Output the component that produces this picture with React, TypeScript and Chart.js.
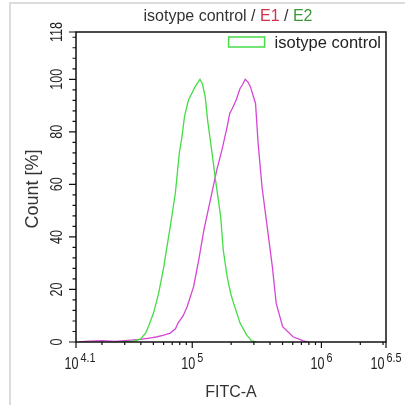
import React, { useEffect, useRef } from 'react';
import { Chart, registerables } from 'chart.js';

Chart.register(...registerables);

// ---- data (x in log10 FITC-A units, y in Count %) ----
const ISO_LABEL = 'isotype control';
const ISO_LOG = [4.45, 4.55, 4.6, 4.64, 4.66, 4.7, 4.74, 4.78, 4.8, 4.83, 4.87, 4.9, 4.92, 4.94, 4.97, 5.0, 5.02, 5.04, 5.06, 5.08, 5.1, 5.12, 5.15, 5.18, 5.22, 5.24, 5.27, 5.3, 5.32, 5.37, 5.42, 5.46, 5.5];
const ISO_COUNT = [0, 0.3, 1.2, 3.5, 5.8, 11, 18.6, 28.7, 35, 44, 57, 72, 78, 85.8, 92, 95, 97, 98.5, 100, 98, 93.4, 84, 73.1, 61.7, 47.7, 35, 24.9, 18, 14.8, 7.2, 2.7, 0.4, 0];

const E1_LABEL = 'E1';
const E1_LOG = [4.12, 4.2, 4.3, 4.4, 4.5, 4.6, 4.68, 4.73, 4.78, 4.83, 4.87, 4.89, 4.93, 4.96, 5.01, 5.05, 5.09, 5.14, 5.19, 5.23, 5.27, 5.29, 5.31, 5.34, 5.37, 5.39, 5.41, 5.43, 5.45, 5.47, 5.49, 5.51, 5.54, 5.58, 5.62, 5.65, 5.7, 5.78, 5.86, 5.9];
const E1_COUNT = [0, 0.3, 0.5, 0.2, 0.6, 1.0, 1.6, 2.0, 2.6, 3.4, 5.0, 7.2, 10, 13.4, 21, 31.2, 42.6, 54, 65.5, 73.1, 81.9, 87, 88.9, 92.1, 96.5, 98, 100, 99, 97.2, 94, 90.8, 75.6, 59.1, 43.9, 28.7, 14.7, 5.8, 2.0, 0.4, 0];

const X_MIN = 4.1;
const X_MAX = 6.5;
const X_LABEL_TICKS = [4.1, 5, 6, 6.5];
const X_LABEL_BASE = '10';
const X_LABEL_EXP = ['4.1', '5', '6', '6.5'];
const Y_MIN = 0;
const Y_MAX = 118;
const Y_LABEL_TICKS = [0, 20, 40, 60, 80, 100, 118];
const Y_MINOR_STEP = 4;

const TITLE_PARTS: [string, string][] = [
  ['isotype control / ', '#333333'],
  ['E1', '#d0304a'],
  [' / ', '#333333'],
  ['E2', '#3a9a3a'],
];
const X_TITLE = 'FITC-A';
const Y_TITLE = 'Count [%]';

const GREEN = '#45dc45';
const MAGENTA = '#d646d6';
const FONT = "'Liberation Sans', Arial, sans-serif";

const near = (a: number, list: number[]) => list.some((v) => Math.abs(v - a) < 1e-6);

const overlay = {
  id: 'overlay',
  beforeDraw(chart: any) {
    const { ctx } = chart;
    ctx.save();
    ctx.strokeStyle = '#dcdcdc';
    ctx.lineWidth = 2;
    ctx.beginPath();
    ctx.moveTo(10, 405);
    ctx.lineTo(10, 3);
    ctx.lineTo(405, 3);
    ctx.stroke();
    ctx.restore();
  },
  afterDraw(chart: any) {
    const { ctx, chartArea: a } = chart;
    const xs = chart.scales.x;
    const ys = chart.scales.y;
    ctx.save();
    ctx.strokeStyle = '#111';
    ctx.lineWidth = 1.5;
    ctx.strokeRect(a.left, a.top, a.right - a.left, a.bottom - a.top);

    // ticks
    ctx.lineWidth = 1.2;
    ctx.beginPath();
    xs.ticks.forEach((t: any) => {
      const px = xs.getPixelForValue(t.value);
      const len = near(t.value, X_LABEL_TICKS) ? 6 : 3;
      ctx.moveTo(px, a.bottom);
      ctx.lineTo(px, a.bottom + len);
    });
    ys.ticks.forEach((t: any) => {
      const py = ys.getPixelForValue(t.value);
      const len = near(t.value, Y_LABEL_TICKS) ? 7 : 3.5;
      ctx.moveTo(a.left, py);
      ctx.lineTo(a.left - len, py);
    });
    ctx.stroke();

    // x tick labels
    ctx.fillStyle = '#222';
    ctx.textBaseline = 'alphabetic';
    const BS = 0.74;
    const ES = 0.9;
    X_LABEL_TICKS.forEach((v, i) => {
      const px = xs.getPixelForValue(v);
      ctx.font = `17px ${FONT}`;
      const bw = ctx.measureText(X_LABEL_BASE).width * BS;
      ctx.font = `12px ${FONT}`;
      const ew = ctx.measureText(X_LABEL_EXP[i]).width * ES;
      const total = bw + 2 + ew;
      const x0 = px - total / 2 + (i === 0 ? 4 : 0);
      ctx.save();
      ctx.translate(x0, a.bottom + 27);
      ctx.scale(BS, 1);
      ctx.font = `17px ${FONT}`;
      ctx.textAlign = 'left';
      ctx.fillText(X_LABEL_BASE, 0, 0);
      ctx.restore();
      ctx.save();
      ctx.translate(x0 + bw + 2, a.bottom + 20);
      ctx.scale(ES, 1);
      ctx.font = `12px ${FONT}`;
      ctx.textAlign = 'left';
      ctx.fillText(X_LABEL_EXP[i], 0, 0);
      ctx.restore();
    });

    // y tick labels
    Y_LABEL_TICKS.forEach((v) => {
      const py = ys.getPixelForValue(v);
      ctx.save();
      ctx.translate(a.left - 14, py);
      ctx.rotate(-Math.PI / 2);
      ctx.scale(BS, 1);
      ctx.font = `17px ${FONT}`;
      ctx.textAlign = 'center';
      ctx.textBaseline = 'alphabetic';
      ctx.fillText(String(v), 0, 0);
      ctx.restore();
    });

    // axis titles
    ctx.font = `16px ${FONT}`;
    ctx.textAlign = 'center';
    ctx.textBaseline = 'alphabetic';
    ctx.fillStyle = '#333';
    ctx.fillText(X_TITLE, (a.left + a.right) / 2, a.bottom + 55);
    ctx.save();
    ctx.translate(a.left - 38, (a.top + a.bottom) / 2 + 2);
    ctx.rotate(-Math.PI / 2);
    ctx.font = `18px ${FONT}`;
    ctx.fillText(Y_TITLE, 0, 0);
    ctx.restore();

    // title with coloured parts
    ctx.font = `16px ${FONT}`;
    ctx.textAlign = 'left';
    const widths = TITLE_PARTS.map(([s]) => ctx.measureText(s).width);
    const tw = widths.reduce((p, c) => p + c, 0);
    let tx = (a.left + a.right) / 2 - tw / 2 - 3;
    TITLE_PARTS.forEach(([s, c], i) => {
      ctx.fillStyle = c;
      ctx.fillText(s, tx, a.top - 11);
      tx += widths[i];
    });

    // legend (first dataset only)
    const ds = chart.data.datasets[0];
    ctx.font = `16.5px ${FONT}`;
    ctx.fillStyle = '#222';
    ctx.textAlign = 'right';
    const lx = a.right - 5;
    const ly = a.top + 16;
    ctx.fillText(ds.label, lx, ly);
    const lw = ctx.measureText(ds.label).width;
    ctx.strokeStyle = ds.borderColor;
    ctx.lineWidth = 1.5;
    ctx.strokeRect(lx - lw - 46, ly - 11, 36, 10);
    ctx.restore();
  },
};

export default function App() {
  const ref = useRef<HTMLCanvasElement | null>(null);
  useEffect(() => {
    if (!ref.current) return;
    const chart = new Chart(ref.current, {
      type: 'line',
      data: {
        datasets: [
          {
            label: ISO_LABEL,
            data: ISO_LOG.map((x, i) => ({ x, y: ISO_COUNT[i] })),
            borderColor: GREEN,
            borderWidth: 1.3,
            pointRadius: 0,
            fill: false,
            tension: 0,
          },
          {
            label: E1_LABEL,
            data: E1_LOG.map((x, i) => ({ x, y: E1_COUNT[i] })),
            borderColor: MAGENTA,
            borderWidth: 1.3,
            pointRadius: 0,
            fill: false,
            tension: 0,
          },
        ],
      },
      options: {
        animation: false,
        responsive: false,
        events: [],
        layout: { padding: { left: 76, top: 32, right: 19, bottom: 63 } },
        plugins: { legend: { display: false }, title: { display: false }, tooltip: { enabled: false } },
        scales: {
          x: {
            type: 'linear',
            min: X_MIN,
            max: X_MAX,
            grid: { display: false, drawTicks: false },
            border: { display: false },
            ticks: { display: false, autoSkip: false },
            afterBuildTicks: (s: any) => {
              const vals: number[] = [];
              for (let d = Math.floor(X_MIN); d <= Math.floor(X_MAX); d++) {
                for (let k = 1; k <= 9; k++) {
                  const v = d + Math.log10(k);
                  if (v >= X_MIN - 1e-9 && v <= X_MAX + 1e-9) vals.push(v);
                }
              }
              X_LABEL_TICKS.forEach((v) => { if (!near(v, vals)) vals.push(v); });
              vals.sort((p, q) => p - q);
              s.ticks = vals.map((value) => ({ value }));
            },
          },
          y: {
            type: 'linear',
            min: Y_MIN,
            max: Y_MAX,
            grid: { display: false, drawTicks: false },
            border: { display: false },
            ticks: { display: false, autoSkip: false },
            afterBuildTicks: (s: any) => {
              const vals: number[] = [];
              for (let v = Y_MIN; v <= Y_MAX; v += Y_MINOR_STEP) vals.push(v);
              Y_LABEL_TICKS.forEach((v) => { if (!near(v, vals)) vals.push(v); });
              vals.sort((p, q) => p - q);
              s.ticks = vals.map((value) => ({ value }));
            },
          },
        },
      },
      plugins: [overlay],
    } as any);
    return () => chart.destroy();
  }, []);
  return (
    <div style={{ position: 'absolute', left: 0, top: 0, width: 405, height: 405, background: '#fff' }}>
      <canvas ref={ref} width={405} height={405} style={{ display: 'block' }} />
    </div>
  );
}
